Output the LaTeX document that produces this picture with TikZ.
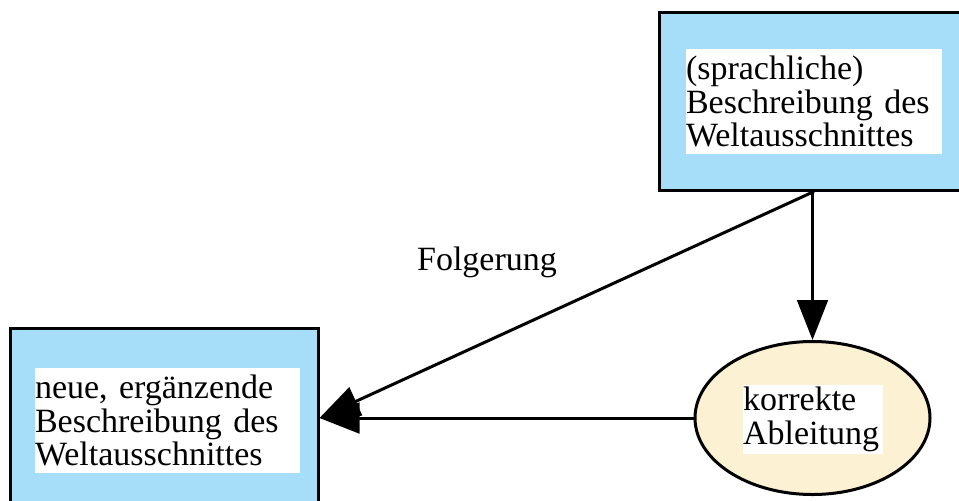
\documentclass[tikz,border=0pt]{standalone}
\usepackage{fontspec}
\setmainfont{Liberation Serif}
\usetikzlibrary{arrows.meta,shapes.geometric}
\definecolor{kastenblau}{RGB}{166,222,250}
\definecolor{ellipsegelb}{RGB}{253,241,211}

\begin{document}
\begin{tikzpicture}[x=0.75pt, y=-0.75pt, line width=2.25pt,
  every node/.style={font=\fontsize{25.5}{25}\selectfont},
  kasten/.style={draw, fill=kastenblau, inner sep=0pt},
  textfeld/.style={fill=white, inner sep=0pt, align=left},
  pfeil/.style={-{Triangle[length=30pt, width=23pt]}}]
  \useasboundingbox (0,0) rectangle (959,500);
  % Knoten
  \node[kasten, minimum width=232.5pt, minimum height=133.5pt] (beschr) at (814,101) {};
  \node[textfeld, text width=192pt, minimum height=78.75pt] (beschrtext) at (814,101.5)
    {(sprachliche)\\Beschreibung des\\Weltausschnittes};
  \node[kasten, minimum width=231pt, minimum height=135pt] (neu) at (164,418) {};
  \node[textfeld, text width=198.75pt, minimum height=78.75pt] (neutext) at (167.5,420.5)
    {neue, ergänzende\\Beschreibung des\\Weltausschnittes};
  \node[ellipse, draw, fill=ellipsegelb, inner sep=0pt, minimum width=176.25pt, minimum height=114.75pt] (abl) at (812.5,418) {};
  \node[textfeld, text width=105pt, minimum height=51.75pt] (abltext) at (813,419.5)
    {korrekte\\Ableitung};
  \node (folg) at (487,262) {Folgerung};
  % Pfeile
  \draw[pfeil] (abl.north |- beschr.south) -- (abl.north);
  \draw[pfeil] (beschr.south) -- (neu.east);
  \draw[pfeil] (abl.west) -- (neu.east);
\end{tikzpicture}
\end{document}
